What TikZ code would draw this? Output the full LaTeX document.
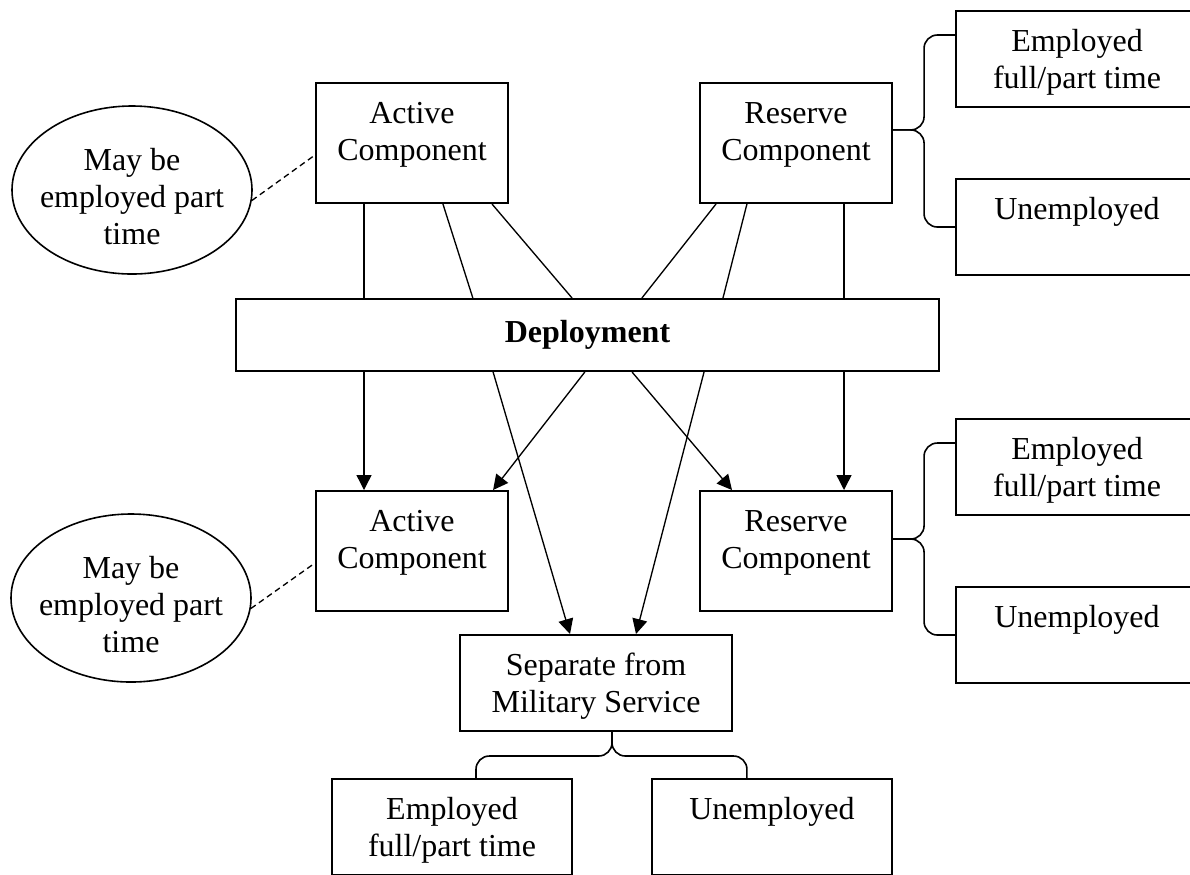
\documentclass[tikz,border=0pt]{standalone}
\usepackage{fontspec}
\setmainfont{Liberation Serif}
\usepackage{tikz}
\usetikzlibrary{arrows.meta,positioning,shapes.geometric}

\newcommand{\boxtext}[3]{%
  \begin{minipage}[t][#1][t]{#2}\centering\rule{0pt}{15pt}#3\end{minipage}}

\begin{document}
\begin{tikzpicture}[
    x=0.375pt, y=-0.375pt,
    >={Triangle[length=5.6pt,width=5.6pt]},
    font=\fontsize{12}{13.9}\selectfont,
    comp/.style={
		rectangle,
		draw=black,
		line width=0.75pt,
		inner sep=0pt
	},
	deploy/.style={
		rectangle,
		draw=black,
		line width=0.75pt,
		minimum width=263.6pt,
		minimum height=27pt,
		inner sep=0pt
	},
	note/.style={
		ellipse,
		draw=black,
		line width=0.6pt,
		minimum width=90pt,
		minimum height=63pt,
		align=center,
		inner xsep=-3pt,
		inner ysep=0pt
	},
	link/.style={
		line width=0.5pt
	},
	brace/.style={
		line width=0.6pt,
		rounded corners=5pt
	},
	dashlink/.style={
		line width=0.5pt,
		dash pattern=on 2.2pt off 1.5pt
	}
  ]
  \useasboundingbox (0,0) rectangle (1190,874);
  \clip (0,0) rectangle (1190,874);

    % We start by placing the blocks

  \node [comp] (actA) at (412,143)
 {\boxtext{45pt}{72pt}{Active\\Component}};

  \node [comp, right of=actA, node distance=144pt] (resA)
 {\boxtext{45pt}{72pt}{Reserve\\Component}};

  \node [deploy] (deploy) at (587.5,335) {\textbf{Deployment}};

  \node [comp, below of=actA, node distance=153pt] (actB)
 {\boxtext{45pt}{72pt}{Active\\Component}};

  \node [comp, below of=resA, node distance=153pt] (resB)
 {\boxtext{45pt}{72pt}{Reserve\\Component}};

  \node [comp] (sep) at (596,683)
 {\boxtext{36pt}{102pt}{Separate from\\Military Service}};

  % employment boxes
  \node [comp] (empA) at (1077,59)
 {\boxtext{36pt}{90.75pt}{Employed\\full/part time}};
  \node [comp] (unempA) at (1077,227)
 {\boxtext{36pt}{90.75pt}{Unemployed}};
  \node [comp] (empB) at (1077,467)
 {\boxtext{36pt}{90.75pt}{Employed\\full/part time}};
  \node [comp] (unempB) at (1077,635)
 {\boxtext{36pt}{90.75pt}{Unemployed}};
  \node [comp] (empS) at (452,827)
 {\boxtext{36pt}{90pt}{Employed\\full/part time}};
  \node [comp] (unempS) at (772,827)
 {\boxtext{36pt}{90pt}{Unemployed}};

  \node [note] (noteA) at (132,190) {\rule{0pt}{13pt}May be\\employed part\\time};
  \node [note] (noteB) at (131,598) {\rule{0pt}{13pt}May be\\employed part\\time};

  % into deployment
 \draw [link] ([xshift=-18pt]actA.south) -- ([xshift=-18pt]actA.south |- deploy.north);
 \draw [link] ([xshift=11.6pt]actA.south) -- ([xshift=-43pt]deploy.north);
 \draw [link] ([xshift=30pt]actA.south) -- ([xshift=-5.8pt]deploy.north);
 \draw [link] ([xshift=-30pt]resA.south) -- ([xshift=20.4pt]deploy.north);
 \draw [link] ([xshift=-18.4pt]resA.south) -- ([xshift=50.8pt]deploy.north);
 \draw [link] ([xshift=18pt]resA.south) -- ([xshift=18pt]resA.south |- deploy.north);

  % out of deployment
 \draw [link,->] ([xshift=-18pt]actB.north |- deploy.south) -- ([xshift=-18pt]actB.north);
 \draw [link,->] ([xshift=-1pt]deploy.south) -- ([xshift=30.4pt]actB.north);
 \draw [link,->] ([xshift=-35.4pt]deploy.south) -- ([xshift=-9.75pt]sep.north);
 \draw [link,->] ([xshift=16.7pt]deploy.south) -- ([xshift=-24pt]resB.north);
 \draw [link,->] ([xshift=43.7pt]deploy.south) -- ([xshift=15pt]sep.north);
 \draw [link,->] ([xshift=18pt]resB.north |- deploy.south) -- ([xshift=18pt]resB.north);

  % braces
 \draw [brace] ([yshift=4.9pt]resA.east) -| ([xshift=-11.6pt,yshift=9pt]empA.west) -- ([yshift=9pt]empA.west);
 \draw [brace] ([yshift=4.9pt]resA.east) -| ([xshift=-11.6pt]unempA.west) -- (unempA.west);
 \draw [brace] ([yshift=4.5pt]resB.east) -| ([xshift=-11.6pt,yshift=9pt]empB.west) -- ([yshift=9pt]empB.west);
 \draw [brace] ([yshift=4.5pt]resB.east) -| ([xshift=-11.6pt]unempB.west) -- (unempB.west);
 \draw [brace] ([xshift=6pt]sep.south) -- ++(0,-9pt) -| ([xshift=9pt]empS.north);
 \draw [brace] ([xshift=6pt]sep.south) -- ++(0,-9pt) -| ([xshift=-9.4pt]unempS.north);

 \draw [dashlink] (noteA.-5) -- ([yshift=-4.5pt]actA.west);
 \draw [dashlink] (noteB.-5) -- ([yshift=-4.5pt]actB.west);

\end{tikzpicture}
\end{document}
